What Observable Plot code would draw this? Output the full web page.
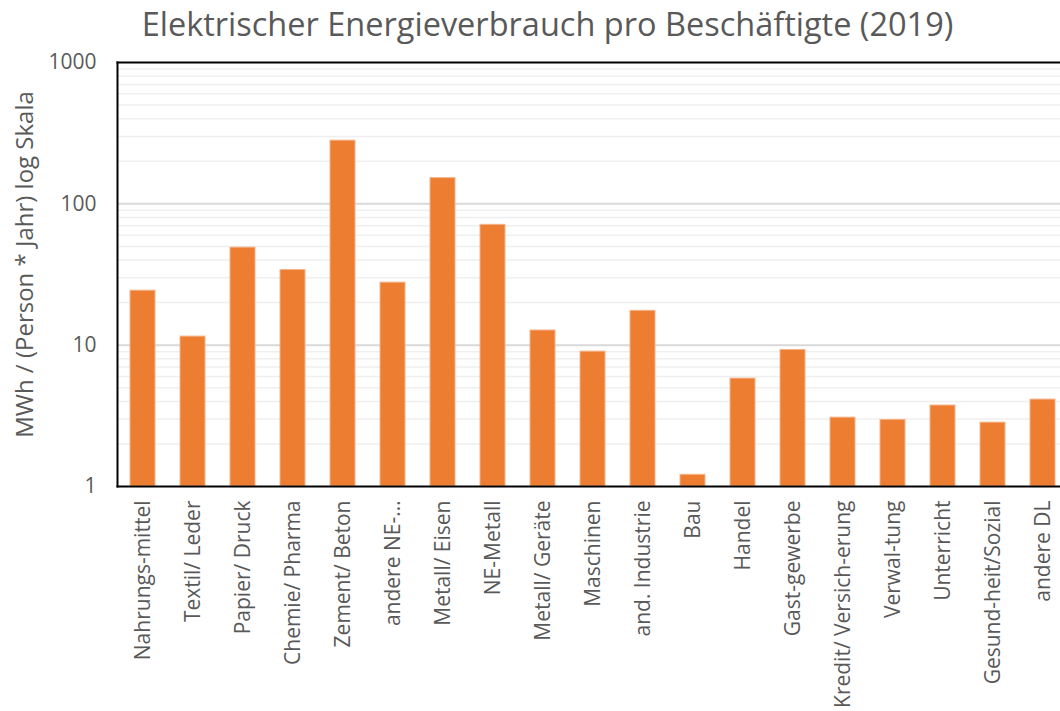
<!DOCTYPE html>
<html>
<head>
<meta charset="utf-8">
<script src="https://cdn.jsdelivr.net/npm/d3@7"></script>
<script src="https://cdn.jsdelivr.net/npm/@observablehq/plot@0.6"></script>
<style>
  html, body { margin: 0; padding: 0; background: white; overflow: hidden; }
  #title { box-sizing: border-box; width: 1060px; height: 40px; padding-top: 8px; padding-left: 35px; text-align: center;
           font-family: "Open Sans", sans-serif; font-size: 32.5px; color: #595959; line-height: 1; white-space: nowrap; }
</style>
</head>
<body>
<div id="title">Elektrischer Energieverbrauch pro Beschäftigte (2019)</div>
<div id="chart"></div>
<script>
const categories = ["Nahrungs-mittel", "Textil/ Leder", "Papier/ Druck", "Chemie/ Pharma", "Zement/ Beton", "andere NE-…", "Metall/ Eisen", "NE-Metall", "Metall/ Geräte", "Maschinen", "and. Industrie", "Bau", "Handel", "Gast-gewerbe", "Kredit/ Versich-erung", "Verwal-tung", "Unterricht", "Gesund-heit/Sozial", "andere DL"];
const values = [24.3, 11.5, 49, 34, 280, 27.7, 152, 71, 12.7, 9.0, 17.5, 1.21, 5.8, 9.25, 3.07, 2.96, 3.74, 2.83, 4.12];
const yTicks = [1, 10, 100, 1000];
const majorGrid = [10, 100];
const minorGrid = [2, 3, 4, 5, 6, 7, 8, 9, 20, 30, 40, 50, 60, 70, 80, 90, 200, 300, 400, 500, 600, 700, 800, 900];
const yLabel = "MWh / (Person * Jahr) log Skala";

const data = categories.map((c, i) => ({cat: c, value: values[i]}));

const chart = Plot.plot({
  width: 1060,
  height: 671,
  marginTop: 22,
  marginBottom: 225,
  marginLeft: 117,
  marginRight: 0,
  style: {fontFamily: "Open Sans, sans-serif", color: "#595959", background: "white", overflow: "hidden"},
  x: {domain: categories, range: [117, 1067], paddingInner: 0.5, paddingOuter: 0.25, label: null},
  y: {type: "log", domain: [1, 1000], label: null},
  marks: [
    Plot.ruleY(minorGrid, {stroke: "#efefef", strokeWidth: 1.5}),
    Plot.ruleY(majorGrid, {stroke: "#d9d9d9", strokeWidth: 2}),
    Plot.barY(data, {x: "cat", y1: 1, y2: "value", fill: "#ED7D31", stroke: "#f6b48a", strokeWidth: 1}),
    Plot.frame({anchor: "left", stroke: "black", strokeWidth: 2}),
    Plot.frame({anchor: "top", stroke: "black", strokeWidth: 2}),
    Plot.frame({anchor: "bottom", stroke: "black", strokeWidth: 2}),
    Plot.axisY({ticks: yTicks, tickFormat: d => String(d), tickSize: 0, tickPadding: 21, fontSize: 21, label: null}),
    Plot.axisX({tickRotate: -90, tickSize: 0, tickPadding: 14, fontSize: 21, label: null}),
    Plot.text([yLabel], {frameAnchor: "left", textAnchor: "middle", rotate: -90, dx: -92, dy: -10, fontSize: 24, fill: "#595959"})
  ]
});
document.getElementById("chart").appendChild(chart);
</script>
</body>
</html>
